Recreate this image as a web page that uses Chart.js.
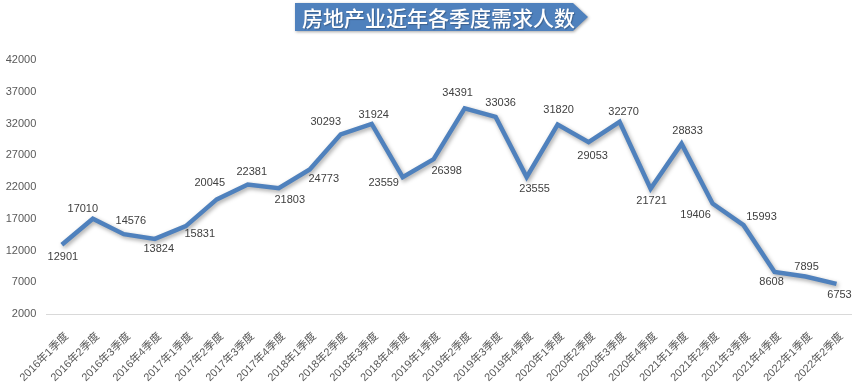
<!DOCTYPE html>
<html>
<head>
<meta charset="utf-8">
<script src="https://cdn.jsdelivr.net/npm/chart.js@4/dist/chart.umd.min.js"></script>
<style>
  html, body { margin: 0; padding: 0; background: #ffffff; }
  #wrap { position: relative; width: 862px; height: 387px; }
  #c { position: absolute; left: 0; top: 0; }
  #titleShadow { position: absolute; left: 295px; top: 3px; filter: drop-shadow(1px 1px 1.5px rgba(0,0,0,0.35)); }
  #title {
    width: 293px; height: 28px; background: #4F81BD; color: #ffffff;
    clip-path: polygon(0 0, 278px 0, 293px 50%, 278px 100%, 0 100%);
    font-family: "Noto Sans CJK SC", sans-serif; font-size: 21px; font-weight: 500;
    line-height: 28px; padding-left: 7px; box-sizing: border-box; white-space: nowrap;
    letter-spacing: 0px; text-shadow: 1px 1px 1px rgba(0,0,0,0.25);
  }
</style>
</head>
<body>
<div id="wrap">
  <canvas id="c" width="862" height="387"></canvas>
  <div id="titleShadow"><div id="title">房地产业近年各季度需求人数</div></div>
</div>
<script>
// ---- data ----
const categories = [
  '2016年1季度','2016年2季度','2016年3季度','2016年4季度',
  '2017年1季度','2017年2季度','2017年3季度','2017年4季度',
  '2018年1季度','2018年2季度','2018年3季度','2018年4季度',
  '2019年1季度','2019年2季度','2019年3季度','2019年4季度',
  '2020年1季度','2020年2季度','2020年3季度','2020年4季度',
  '2021年1季度','2021年2季度','2021年3季度','2021年4季度',
  '2022年1季度','2022年2季度'
];
const demandValues = [
  12901, 17010, 14576, 13824, 15831, 20045, 22381, 21803, 24773, 30293,
  31924, 23559, 26398, 34391, 33036, 23555, 31820, 29053, 32270, 21721,
  28833, 19406, 15993, 8608, 7895, 6753
];
const yAxisMin = 2000;
const yAxisMax = 42000;
const yAxisStep = 5000;

// ---- label placement (style: offset of each value label from its point) ----
const labelNudge = [
  [1,12],[-10,-10],[7,-13],[4,10],[14,8],[-7,-16],[4,-13],[11,12],[14,10],[-15,-12],
  [2,-9],[-19,6],[13,12],[-7,-15],[5,-14],[8,12],[1,-15],[4,14],[4,-10],[1,12],
  [6,-13],[-17,11],[18,-8],[-3,10],[1,-10],[3,11]
];

const lineShadow = {
  id: 'lineShadow',
  beforeDatasetsDraw(chart) {
    const ctx = chart.ctx;
    ctx.save();
    ctx.shadowColor = 'rgba(0,0,0,0.35)';
    ctx.shadowBlur = 4;
    ctx.shadowOffsetX = 1.5;
    ctx.shadowOffsetY = 2;
  },
  afterDatasetsDraw(chart) {
    chart.ctx.restore();
  }
};

const valueLabels = {
  id: 'valueLabels',
  afterDraw(chart) {
    const ctx = chart.ctx;
    const meta = chart.getDatasetMeta(0);
    const data = chart.data.datasets[0].data;
    ctx.save();
    ctx.font = '11px "Liberation Sans", Arial, sans-serif';
    ctx.fillStyle = '#404040';
    ctx.textAlign = 'center';
    ctx.textBaseline = 'middle';
    meta.data.forEach((pt, i) => {
      const n = labelNudge[i] || [0, -10];
      ctx.fillText(String(data[i]), pt.x + n[0], pt.y + n[1]);
    });
    ctx.restore();
  }
};

new Chart(document.getElementById('c'), {
  type: 'line',
  data: {
    labels: categories,
    datasets: [{
      data: demandValues,
      borderColor: '#4F81BD',
      borderWidth: 4.5,
      pointRadius: 0,
      pointHoverRadius: 0,
      tension: 0,
      fill: false
    }]
  },
  options: {
    responsive: false,
    animation: false,
    events: [],
    layout: { padding: { left: 0, right: 9, top: 60, bottom: 0 } },
    plugins: { legend: { display: false }, title: { display: false }, tooltip: { enabled: false } },
    scales: {
      x: {
        type: 'category',
        offset: true,
        grid: { display: false, drawTicks: false },
        border: { display: true, color: '#D9D9D9', width: 1 },
        ticks: {
          autoSkip: false, minRotation: 45, maxRotation: 45, padding: 16, labelOffset: 5,
          color: '#595959',
          font: { family: '"Liberation Sans", "Noto Sans CJK SC", sans-serif', size: 11 }
        },
        afterFit(scale) { scale.height = 73; }
      },
      y: {
        min: yAxisMin, max: yAxisMax,
        grid: { display: false, drawTicks: false },
        border: { display: false },
        ticks: {
          stepSize: yAxisStep, padding: 10, color: '#595959',
          font: { family: '"Liberation Sans", Arial, sans-serif', size: 11 },
          callback: (v) => String(v)
        },
        afterFit(scale) { scale.width = 46; }
      }
    }
  },
  plugins: [lineShadow, valueLabels]
});
</script>
</body>
</html>
